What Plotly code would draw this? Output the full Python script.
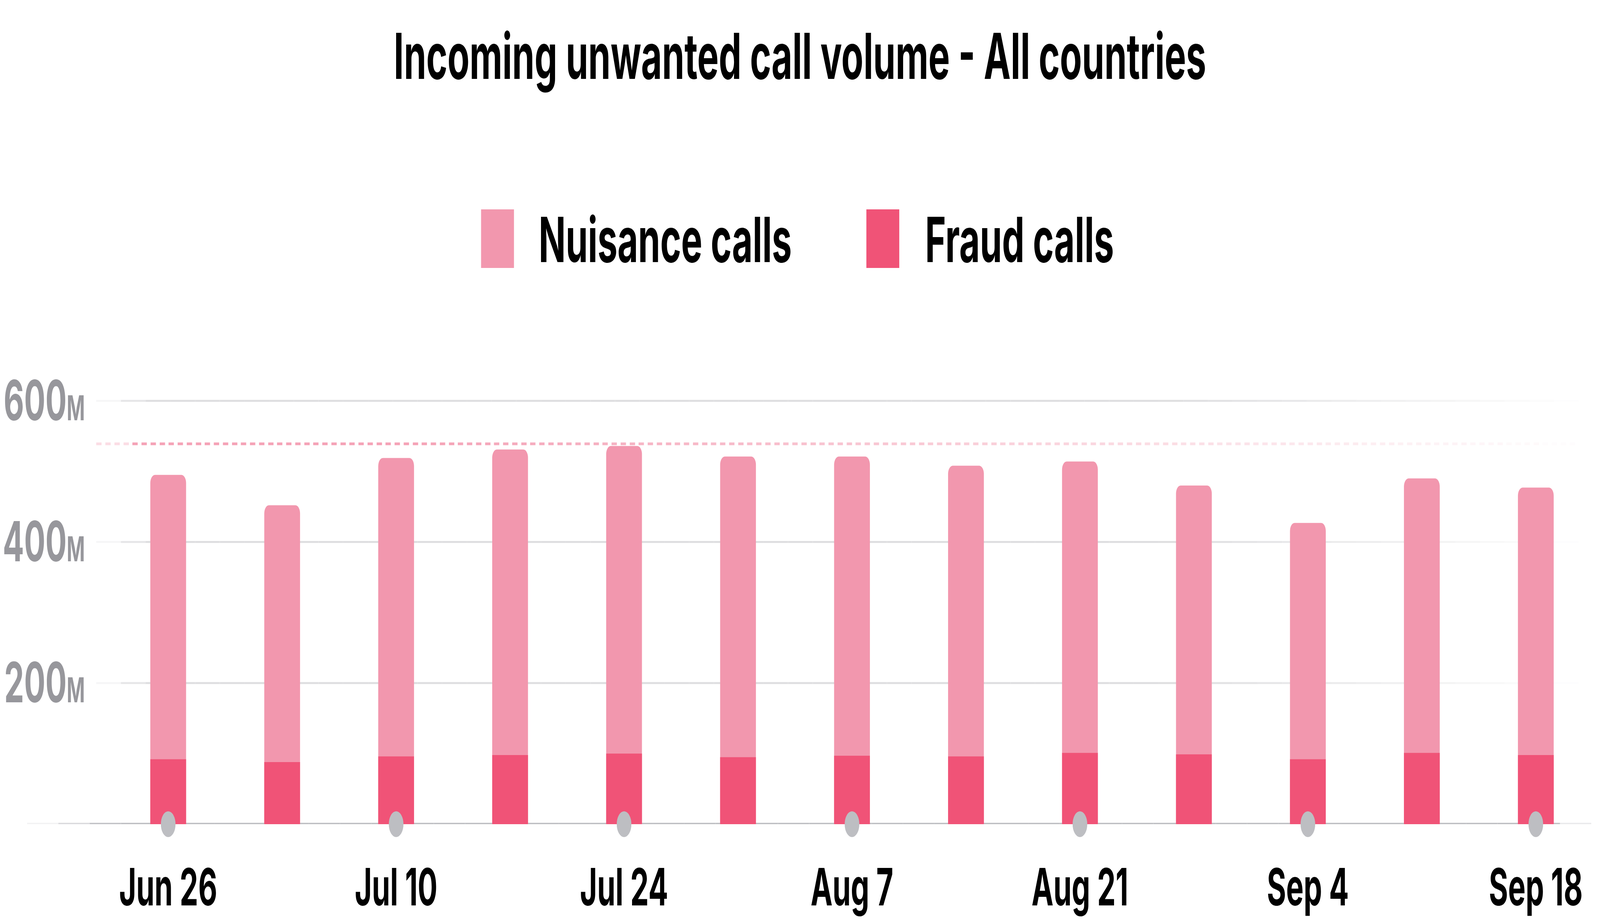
import plotly.graph_objects as go

# weekly volumes, millions of calls
weeks = ["Jun 26", "Jul 3", "Jul 10", "Jul 17", "Jul 24", "Jul 31", "Aug 7",
         "Aug 14", "Aug 21", "Aug 28", "Sep 4", "Sep 11", "Sep 18"]
nuisance_calls = [403, 364, 423, 433, 436, 426, 424, 412, 413, 381, 335, 389, 379]
fraud_calls = [92, 88, 96, 98, 100, 95, 97, 96, 101, 99, 92, 101, 98]
label_weeks = weeks[::2]
y_ticks = [200, 400, 600]
peak_line = 539

PINK = "#F297AE"
RED = "#F05377"
GREY = "#BDBEC2"
FONT = "Inter"

W, H = 7200, 2363
PLOT_L, PLOT_R = 390, 7104
PLOT_B, PLOT_T = 2110, 990

def px_x(px):
    # pixel -> paper x
    return (px - PLOT_L) / (PLOT_R - PLOT_L)

def px_y(py):
    return (PLOT_B - py) / (PLOT_B - PLOT_T)

totals = [n + f for n, f in zip(nuisance_calls, fraud_calls)]

fig = go.Figure()
fig.add_trace(go.Bar(x=weeks, y=totals, name="Nuisance calls", marker_color=PINK,
                     marker_line_width=0, width=0.314, showlegend=False))
fig.add_trace(go.Bar(x=weeks, y=fraud_calls, name="Fraud calls", marker_color=RED,
                     marker_line_width=0, width=0.314, showlegend=False))
fig.add_trace(go.Scatter(x=label_weeks, y=[0] * len(label_weeks), mode="markers",
                         marker=dict(size=66, color=GREY), cliponaxis=False,
                         hoverinfo="skip", showlegend=False))

shapes = []

def faded_line(y, yref, x0, x1, color, width, alpha, n=60, dash=None):
    # split a line in pieces so it can fade out at the ends
    step = (x1 - x0) / n
    for i in range(n):
        a = x0 + i * step
        b = a + step
        op = alpha((a + b) / 2)
        if op <= 0.01:
            continue
        shapes.append(dict(type="line", xref="paper", yref=yref,
                           x0=px_x(a), x1=px_x(b), y0=y, y1=y, layer="below",
                           opacity=min(op, 1),
                           line=dict(color=color, width=width, dash=dash)))

def ramp(p, a, b):
    return max(0, min(1, (p - a) / (b - a)))

def grid_alpha(p):
    return ramp(p, 390, 620) * (1 - ramp(p, 5200, 7104))

def dash_alpha(p):
    return ramp(p, 390, 620) * (1 - ramp(p, 1800, 7150))

def base_alpha(p):
    return ramp(p, 77, 460) * (1 - ramp(p, 6930, 7161))

for v in y_ticks:
    faded_line(v, "y", PLOT_L, PLOT_R, "#DEDEE0", 5, grid_alpha)
faded_line(peak_line, "y", PLOT_L, PLOT_R, "#F5A3B7", 7, dash_alpha, n=41,
           dash="24px,17px")
faded_line(0, "y", 77, 7161, GREY, 7, base_alpha, n=50)

# legend drawn by hand so the swatches can be big
legend_items = [("Nuisance calls", PINK, 2133, 2392), ("Fraud calls", RED, 3878, 4142)]
annotations = []
for name, color, sx, tx in legend_items:
    shapes.append(dict(type="rect", xref="paper", yref="paper",
                       x0=px_x(sx), x1=px_x(sx + 149), y0=px_y(686), y1=px_y(536),
                       fillcolor=color, line_width=0))
    annotations.append(dict(text=name, xref="paper", yref="paper", x=px_x(tx),
                            y=px_y(613), xanchor="left", yanchor="middle",
                            showarrow=False,
                            font=dict(family=FONT, size=160, color="black", weight=700)))

fig.update_layout(
    width=W, height=H,
    margin=dict(l=PLOT_L, r=W - PLOT_R, t=PLOT_T, b=H - PLOT_B, pad=0),
    paper_bgcolor="white", plot_bgcolor="white",
    barmode="overlay", barcornerradius=21,
    title=dict(text="Incoming unwanted call volume - All countries",
               x=0.5, xanchor="center", y=1 - 145 / H, yanchor="middle",
               font=dict(family=FONT, size=162, color="black", weight=700)),
    shapes=shapes, annotations=annotations,
    showlegend=False,
    xaxis=dict(type="category", range=[-0.6315, 12.376], tickvals=label_weeks,
               ticktext=label_weeks, showgrid=False, showline=False, zeroline=False,
               ticks="", ticklabelstandoff=75,
               tickfont=dict(family=FONT, size=132, color="black", weight=700)),
    yaxis=dict(range=[0, 620], tickvals=y_ticks,
               ticktext=[f"{v}<span style='font-size:88px'>M</span>" for v in y_ticks],
               showgrid=False, showline=False, zeroline=False, ticks="",
               ticklabelstandoff=50,
               tickfont=dict(family=FONT, size=142, color="#97979C", weight=700)),
)

# the browser may be narrower than the chart: squeeze it to the window width
fit_js = """
document.body.style.margin = '0';
document.documentElement.style.overflow = 'hidden';
var gd = document.getElementsByClassName('plotly-graph-div')[0];
var sx = Math.min(1, window.innerWidth / %d);
var sy = Math.min(1, window.innerHeight / %d);
gd.style.transformOrigin = '0 0';
gd.style.transform = 'scale(' + sx + ',' + sy + ')';
""" % (W, H)

fig.write_html("out.html", post_script=fit_js, config={"displayModeBar": False})
